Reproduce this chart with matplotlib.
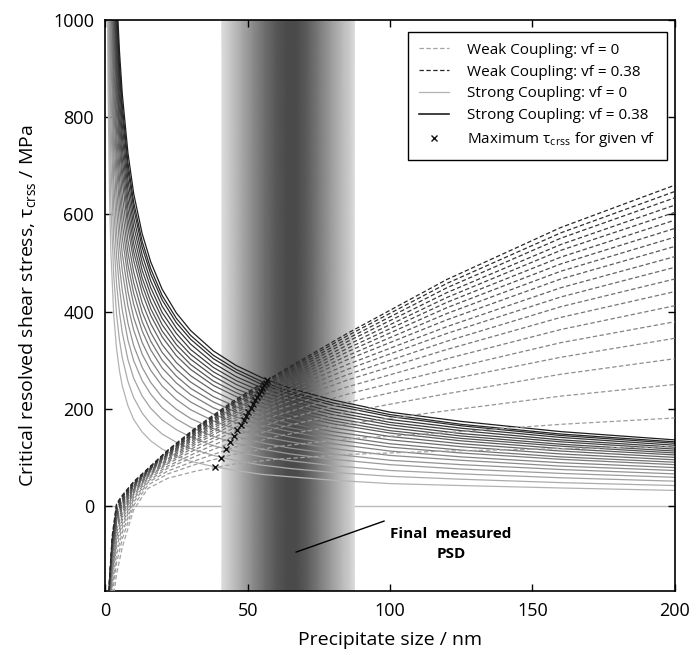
import numpy as np
import matplotlib
matplotlib.use("Agg")
import matplotlib.pyplot as plt
from matplotlib.lines import Line2D

plt.rcParams['font.family'] = ['Open Sans', 'DejaVu Sans']
plt.rcParams['mathtext.fontset'] = 'custom'
plt.rcParams['mathtext.rm'] = 'Open Sans'

# ── Data ──────────────────────────────────────────────────────────────────────
vf = [0.00, 0.02, 0.04, 0.06, 0.08, 0.10, 0.12, 0.14, 0.16, 0.18,
      0.20, 0.22, 0.24, 0.26, 0.28, 0.30, 0.32, 0.34, 0.36, 0.38]

# strong coupling (solid), tau in MPa at these sizes (nm)
strong_size = [0.5, 1, 1.5, 2, 3, 4, 5, 6, 8, 10, 13, 16, 20, 25, 30, 38,
               46, 55, 65, 80, 100, 125, 160, 200]
strong_tau = [
    [1488, 868, 642, 522, 393, 323, 279, 247, 206, 178, 152, 134, 117, 103, 92, 81, 73, 65, 60, 53, 46, 42, 37, 32],
    [1688, 1010, 758, 622, 475, 394, 342, 305, 256, 223, 191, 169, 148, 131, 118, 104, 93, 84, 77, 69, 61, 55, 48, 42],
    [1868, 1137, 862, 712, 548, 457, 399, 357, 301, 263, 226, 201, 177, 157, 142, 124, 112, 101, 93, 83, 73, 66, 58, 51],
    [2028, 1250, 954, 792, 613, 514, 450, 403, 341, 299, 258, 230, 202, 179, 162, 143, 129, 117, 107, 96, 85, 76, 67, 59],
    [2168, 1349, 1035, 862, 671, 564, 494, 444, 376, 330, 285, 254, 224, 199, 180, 159, 143, 130, 119, 107, 94, 85, 75, 66],
    [2308, 1448, 1116, 932, 728, 613, 538, 484, 411, 362, 312, 279, 247, 219, 198, 175, 158, 143, 132, 118, 104, 94, 82, 73],
    [2428, 1533, 1185, 992, 777, 655, 576, 519, 441, 388, 336, 300, 265, 236, 214, 189, 171, 155, 142, 128, 113, 101, 89, 79],
    [2548, 1618, 1254, 1052, 826, 698, 614, 553, 471, 415, 360, 321, 284, 253, 229, 202, 183, 166, 153, 137, 121, 109, 96, 85],
    [2648, 1688, 1312, 1102, 867, 733, 646, 582, 496, 438, 379, 339, 300, 267, 242, 214, 193, 176, 161, 145, 128, 115, 101, 90],
    [2748, 1759, 1370, 1152, 907, 769, 677, 611, 521, 460, 399, 357, 316, 281, 255, 225, 204, 185, 170, 153, 136, 122, 107, 95],
    [2848, 1830, 1428, 1202, 948, 804, 709, 640, 546, 482, 418, 375, 332, 295, 268, 237, 214, 195, 179, 161, 143, 128, 113, 100],
    [2948, 1901, 1485, 1252, 989, 839, 740, 669, 571, 505, 438, 392, 348, 309, 281, 248, 225, 204, 188, 169, 150, 134, 118, 105],
    [3028, 1957, 1532, 1292, 1022, 868, 766, 692, 591, 523, 454, 406, 360, 321, 291, 257, 233, 212, 195, 175, 155, 139, 123, 109],
    [3108, 2014, 1578, 1332, 1054, 896, 791, 715, 611, 540, 469, 420, 373, 332, 302, 267, 241, 220, 202, 181, 161, 144, 127, 113],
    [3188, 2070, 1624, 1372, 1087, 924, 816, 738, 631, 558, 485, 435, 386, 343, 312, 276, 250, 227, 209, 188, 167, 149, 132, 117],
    [3268, 2127, 1670, 1412, 1120, 952, 842, 761, 651, 576, 501, 449, 398, 355, 322, 285, 258, 235, 216, 194, 172, 155, 136, 121],
    [3348, 2183, 1716, 1452, 1152, 981, 867, 784, 671, 594, 516, 463, 411, 366, 333, 294, 266, 243, 223, 200, 178, 160, 141, 125],
    [3428, 2240, 1762, 1492, 1185, 1009, 892, 807, 691, 612, 532, 477, 424, 377, 343, 303, 275, 250, 230, 207, 184, 165, 145, 129],
    [3488, 2282, 1797, 1522, 1209, 1030, 911, 825, 706, 625, 544, 488, 433, 386, 351, 310, 281, 256, 235, 212, 188, 168, 148, 132],
    [3568, 2339, 1843, 1562, 1242, 1059, 937, 848, 726, 643, 560, 502, 446, 397, 361, 319, 289, 264, 242, 218, 193, 174, 153, 136],
]

# weak coupling (dashed)
weak_size = [1, 1.5, 2.5, 4, 6, 10, 15, 22, 32, 45, 60, 85, 120, 160, 200]
weak_tau = [
    [-320, -265, -205, -140, -85, -8, 36, 57, 72, 86, 96, 106, 113, 118, 122],
    [-306, -247, -182, -117, -68, 1, 43, 66, 86, 106, 122, 138, 151, 168, 181],
    [-295, -233, -164, -99, -55, 8, 48, 72, 94, 120, 143, 169, 196, 226, 250],
    [-286, -222, -150, -85, -45, 14, 51, 78, 103, 132, 160, 193, 231, 271, 303],
    [-279, -213, -139, -74, -37, 18, 55, 82, 110, 143, 173, 213, 259, 306, 345],
    [-273, -204, -129, -64, -29, 23, 58, 87, 117, 153, 186, 230, 281, 336, 379],
    [-267, -198, -120, -55, -22, 26, 60, 90, 123, 160, 197, 245, 303, 363, 412],
    [-262, -191, -112, -47, -17, 29, 62, 93, 128, 168, 206, 259, 322, 388, 441],
    [-259, -186, -106, -41, -12, 32, 64, 96, 132, 174, 214, 270, 339, 410, 467],
    [-255, -182, -100, -35, -7, 34, 66, 98, 136, 179, 221, 281, 355, 430, 491],
    [-251, -177, -94, -29, -3, 36, 67, 101, 140, 184, 228, 291, 369, 449, 513],
    [-248, -173, -89, -24, 1, 39, 69, 103, 143, 189, 235, 301, 383, 467, 534],
    [-245, -170, -85, -20, 4, 40, 70, 105, 146, 193, 240, 309, 396, 483, 553],
    [-243, -166, -81, -16, 7, 42, 71, 107, 149, 197, 245, 317, 408, 498, 571],
    [-240, -163, -77, -12, 10, 43, 72, 108, 151, 201, 250, 324, 419, 512, 588],
    [-238, -160, -73, -8, 12, 45, 73, 110, 154, 204, 254, 331, 429, 526, 604],
    [-236, -157, -69, -4, 15, 46, 74, 111, 156, 208, 259, 338, 439, 538, 619],
    [-233, -154, -65, 0, 18, 48, 75, 113, 158, 211, 263, 344, 449, 551, 634],
    [-232, -152, -63, 2, 20, 49, 76, 114, 160, 213, 267, 350, 458, 562, 647],
    [-230, -150, -60, 5, 22, 50, 77, 115, 162, 216, 270, 355, 466, 573, 660],
]

# maximum tau_crss for each vf
max_size = [38.6, 40.6, 42.4, 43.9, 45.2, 46.45, 47.55, 48.6, 49.45, 50.3,
            51.15, 51.95, 52.6, 53.25, 53.9, 54.55, 55.15, 55.8, 56.3, 56.9]
max_tau = [79.8, 99.7, 116.9, 131.8, 144.4, 156.9, 167.4, 177.6, 186.0, 194.3,
           202.5, 210.6, 217.1, 223.5, 229.7, 236.0, 242.1, 248.4, 252.9, 259.0]

# measured PSD band (grey level across size)
band_size = [41.0, 44, 48, 52, 56, 60, 64, 67, 71, 75, 79, 83, 86, 87.5]
band_gray = [0.86, 0.78, 0.66, 0.54, 0.43, 0.34, 0.29, 0.29, 0.36, 0.48, 0.60, 0.72, 0.80, 0.86]

# ── Figure ────────────────────────────────────────────────────────────────────
fig = plt.figure(figsize=(6.92, 6.66), dpi=100)
ax = fig.add_axes([0.152, 0.1126, 0.823, 0.8574])
ylo, yhi = -175, 1000

bx = np.array([band_size, band_size])
by = np.array([[ylo] * len(band_size), [yhi] * len(band_size)])
bc = np.array([band_gray, band_gray])
ax.pcolormesh(bx, by, bc, shading='gouraud', cmap='gray', vmin=0, vmax=1, zorder=1)
ax.axhline(0, color='#bbbbbb', lw=1.0, zorder=0.5)

n = len(vf)
for i in range(n):
    g = 0.70 - 0.58 * i / (n - 1)
    ax.plot(strong_size, strong_tau[i], color=str(g), lw=0.9, zorder=2)
for i in range(n):
    g = 0.64 - 0.48 * i / (n - 1)
    ax.plot(weak_size, weak_tau[i], color=str(g), lw=0.9, ls=(0, (3.5, 2)), zorder=3)
ax.plot(max_size, max_tau, ls='none', marker='x', ms=4, mew=1.0, color='#111111', zorder=4)

ax.text(121.5, -78, 'Final  measured\nPSD', ha='center', va='center',
        fontsize=11, fontweight='bold', linespacing=1.5, zorder=5)
ax.annotate('', xy=(67, -95), xytext=(98, -31),
            arrowprops=dict(arrowstyle='-', color='black', lw=1.0,
                            shrinkA=0, shrinkB=0), zorder=5)

ax.set_xlim(0, 200)
ax.set_ylim(ylo, yhi)
ax.set_xticks([0, 50, 100, 150, 200])
ax.set_yticks([0, 200, 400, 600, 800, 1000])
ax.tick_params(direction='in', top=True, right=True, length=5, width=1,
               labelsize=13, pad=8)
for s in ax.spines.values():
    s.set_linewidth(1.2)
ax.set_xlabel('Precipitate size / nm', fontsize=14, labelpad=8)
ax.set_ylabel('Critical resolved shear stress, τ$_{\\mathrm{crss}}$ / MPa', fontsize=14, labelpad=10)

handles = [
    Line2D([], [], color='0.64', lw=0.9, ls=(0, (3.5, 2))),
    Line2D([], [], color='0.16', lw=0.9, ls=(0, (3.5, 2))),
    Line2D([], [], color='0.70', lw=0.9),
    Line2D([], [], color='0.12', lw=1.2),
    Line2D([], [], ls='none', marker='x', ms=5, mew=1.0, color='#111111'),
]
labels = ['Weak Coupling: vf = 0', 'Weak Coupling: vf = 0.38',
          'Strong Coupling: vf = 0', 'Strong Coupling: vf = 0.38',
          'Maximum τ$_{\\mathrm{crss}}$ for given vf']
leg = ax.legend(handles, labels, loc='upper right', bbox_to_anchor=(0.986, 0.979),
                borderaxespad=0, fontsize=11, frameon=True, fancybox=False,
                framealpha=1, edgecolor='black', handlelength=2.0,
                handletextpad=1.2, labelspacing=0.45, borderpad=0.7)
leg.get_frame().set_linewidth(1.0)
leg.set_zorder(10)

fig.savefig('out.png', dpi=100)
